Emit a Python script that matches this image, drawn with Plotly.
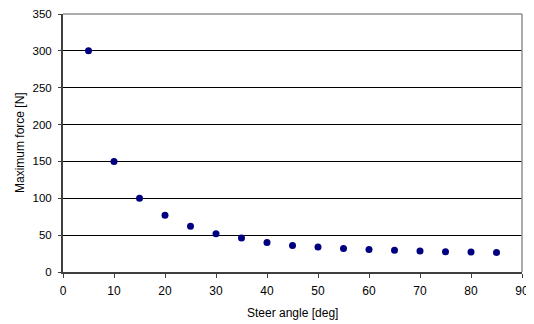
import plotly.graph_objects as go

angles = [5, 10, 15, 20, 25, 30, 35, 40, 45, 50, 55, 60, 65, 70, 75, 80, 85]
forces = [300, 150, 100, 77, 62, 52, 46, 40, 36, 34, 32, 30.5, 29.5, 28.5, 27.5, 27, 26.5]
x_ticks = [0, 10, 20, 30, 40, 50, 60, 70, 80, 90]
y_ticks = [0, 50, 100, 150, 200, 250, 300, 350]
x_title = "Steer angle [deg]"
y_title = "Maximum force [N]"

fig = go.Figure()
fig.add_trace(go.Scatter(
    x=angles, y=forces, mode="markers",
    marker=dict(color="#000080", size=7, line=dict(width=0)),
    showlegend=False,
))

font = dict(family="Liberation Sans, Arial, sans-serif", size=12, color="#000000")

fig.update_layout(
    width=526, height=316,
    margin=dict(l=55, r=12, t=6, b=52, pad=0, autoexpand=False),
    paper_bgcolor="white", plot_bgcolor="white",
    font=font,
    xaxis=dict(
        range=[0, 90], tickvals=x_ticks, ticks="outside", ticklen=4,
        tickcolor="#404040", showgrid=False, zeroline=False,
        showline=True, linecolor="#404040", linewidth=2,
        tickfont=dict(size=12), automargin=False, ticklabelstandoff=3,
        ticklabeloverflow="allow",
    ),
    yaxis=dict(
        range=[0, 350], tickvals=y_ticks, ticks="outside", ticklen=3,
        tickcolor="#404040", showgrid=True, gridcolor="#000000", gridwidth=1,
        zeroline=False, showline=True, linecolor="#404040", linewidth=2,
        tickfont=dict(size=11.5), automargin=False, ticklabelstandoff=4,
        ticklabeloverflow="allow",
    ),
)

fig.add_annotation(text=x_title, xref="paper", yref="paper", x=0.5, y=0,
                   yshift=-41, yanchor="middle", showarrow=False,
                   font=dict(size=12))
fig.add_annotation(text=y_title, xref="paper", yref="paper", x=0, y=0.5,
                   xshift=-43, xanchor="center", textangle=-90, showarrow=False,
                   font=dict(size=12))

# top and right frame
fig.add_shape(type="line", xref="paper", yref="paper", x0=0, x1=1, y0=1, y1=1,
              line=dict(color="#909090", width=1.5))
fig.add_shape(type="line", xref="paper", yref="paper", x0=1, x1=1, y0=0, y1=1,
              line=dict(color="#909090", width=1.5))

fig.write_html("out.html")
